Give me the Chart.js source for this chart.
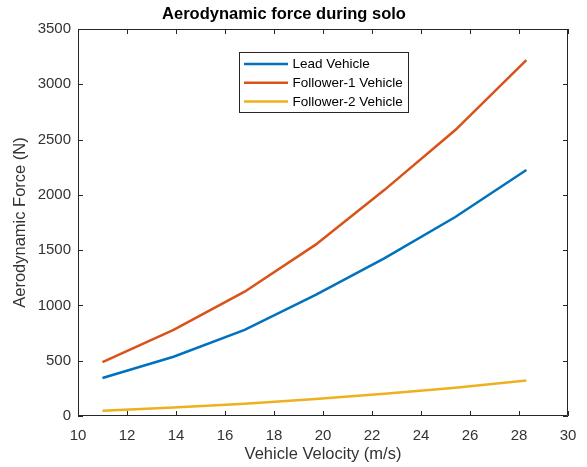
<!DOCTYPE html>
<html><head><meta charset="utf-8">
<script src="https://cdn.jsdelivr.net/npm/chart.js@4"></script>
<style>html,body{margin:0;padding:0;background:#fff}#wrap{width:587px;height:467px}</style>
</head><body><div id="wrap"><canvas id="c" width="587" height="467"></canvas></div>
<script>
const velocity = [11.0, 13.9, 16.8, 19.7, 22.5, 25.4, 28.3];
const leadForce = [344, 536, 778, 1095, 1425, 1800, 2225];
const follower1Force = [488, 778, 1124, 1550, 2043, 2586, 3219];
const follower2Force = [47, 76, 110, 153, 202, 256, 320];
const seriesNames = ['Lead Vehicle', 'Follower-1 Vehicle', 'Follower-2 Vehicle'];
const seriesColors = ['#0072BD', '#D95319', '#EDB120'];
const xTicks = [10, 12, 14, 16, 18, 20, 22, 24, 26, 28, 30];
const yTicks = [0, 500, 1000, 1500, 2000, 2500, 3000, 3500];

const FONT = "'Liberation Sans', Arial, Helvetica, sans-serif";
const pts = arr => arr.map((v, i) => ({x: velocity[i], y: v}));

const framePlugin = {
  id: 'frame',
  afterDatasetsDraw(chart) {
    const {ctx, chartArea: a, scales: {x, y}} = chart;
    ctx.save();
    ctx.strokeStyle = '#262626';
    ctx.lineWidth = 1;
    ctx.beginPath();
    ctx.rect(a.left + 0.5, a.top + 0.5, a.right - a.left - 1, a.bottom - a.top - 1);
    xTicks.forEach(t => {
      const px = Math.round(x.getPixelForValue(t)) + 0.5;
      ctx.moveTo(px, a.bottom); ctx.lineTo(px, a.bottom - 5);
      ctx.moveTo(px, a.top); ctx.lineTo(px, a.top + 5);
    });
    yTicks.forEach(t => {
      const py = Math.round(y.getPixelForValue(t)) + 0.5;
      ctx.moveTo(a.left, py); ctx.lineTo(a.left + 5, py);
      ctx.moveTo(a.right, py); ctx.lineTo(a.right - 5, py);
    });
    ctx.stroke();
    // legend
    const lx = 239.5, ly = 52.5, lw = 169, lh = 60;
    ctx.fillStyle = '#fff';
    ctx.fillRect(lx, ly, lw, lh);
    ctx.strokeStyle = '#262626';
    ctx.strokeRect(lx, ly, lw, lh);
    ctx.font = '13.5px ' + FONT;
    ctx.textBaseline = 'middle';
    chart.data.datasets.forEach((ds, i) => {
      const cy = 64 + i * 18.7;
      ctx.strokeStyle = ds.borderColor;
      ctx.lineWidth = 2.5;
      ctx.beginPath();
      ctx.moveTo(244, cy); ctx.lineTo(288, cy);
      ctx.stroke();
      ctx.fillStyle = '#000';
      ctx.fillText(ds.label, 292.5, cy + 0.5);
    });
    ctx.restore();
  }
};

new Chart(document.getElementById('c'), {
  type: 'line',
  data: {
    datasets: [
      {label: seriesNames[0], data: pts(leadForce), borderColor: seriesColors[0]},
      {label: seriesNames[1], data: pts(follower1Force), borderColor: seriesColors[1]},
      {label: seriesNames[2], data: pts(follower2Force), borderColor: seriesColors[2]}
    ]
  },
  options: {
    responsive: false,
    animation: false,
    devicePixelRatio: 1,
    elements: {
      line: {borderWidth: 2.5, tension: 0, fill: false},
      point: {radius: 0}
    },
    layout: {padding: {left: 0, right: 19, top: 0, bottom: 0}},
    plugins: {
      legend: {display: false},
      tooltip: {enabled: false},
      title: {
        display: true,
        text: 'Aerodynamic force during solo',
        color: '#000',
        font: {family: FONT, size: 16.5, weight: 'bold', lineHeight: 1.2},
        padding: {top: 5, bottom: 4.2}
      }
    },
    scales: {
      x: {
        type: 'linear', min: 10, max: 30,
        afterBuildTicks: s => { s.ticks = xTicks.map(v => ({value: v})); },
        afterFit: s => { s.height = 51; },
        grid: {display: false, drawTicks: false},
        border: {display: false},
        ticks: {color: '#333333', font: {family: FONT, size: 15}, padding: 10.5, maxRotation: 0, autoSkip: false, callback: v => String(v)},
        title: {display: true, text: 'Vehicle Velocity (m/s)', color: '#333333', font: {family: FONT, size: 16.5}, padding: {top: 0, bottom: 3}}
      },
      y: {
        type: 'linear', min: 0, max: 3500,
        afterBuildTicks: s => { s.ticks = yTicks.map(v => ({value: v})); },
        afterFit: s => { s.width = 78; },
        grid: {display: false, drawTicks: false},
        border: {display: false},
        ticks: {color: '#333333', font: {family: FONT, size: 15}, padding: 7, autoSkip: false, callback: v => String(v)},
        title: {display: true, text: 'Aerodynamic Force (N)', color: '#333333', font: {family: FONT, size: 16.5}, padding: {top: 11, bottom: 0}}
      }
    }
  },
  plugins: [framePlugin]
});
</script></body></html>
